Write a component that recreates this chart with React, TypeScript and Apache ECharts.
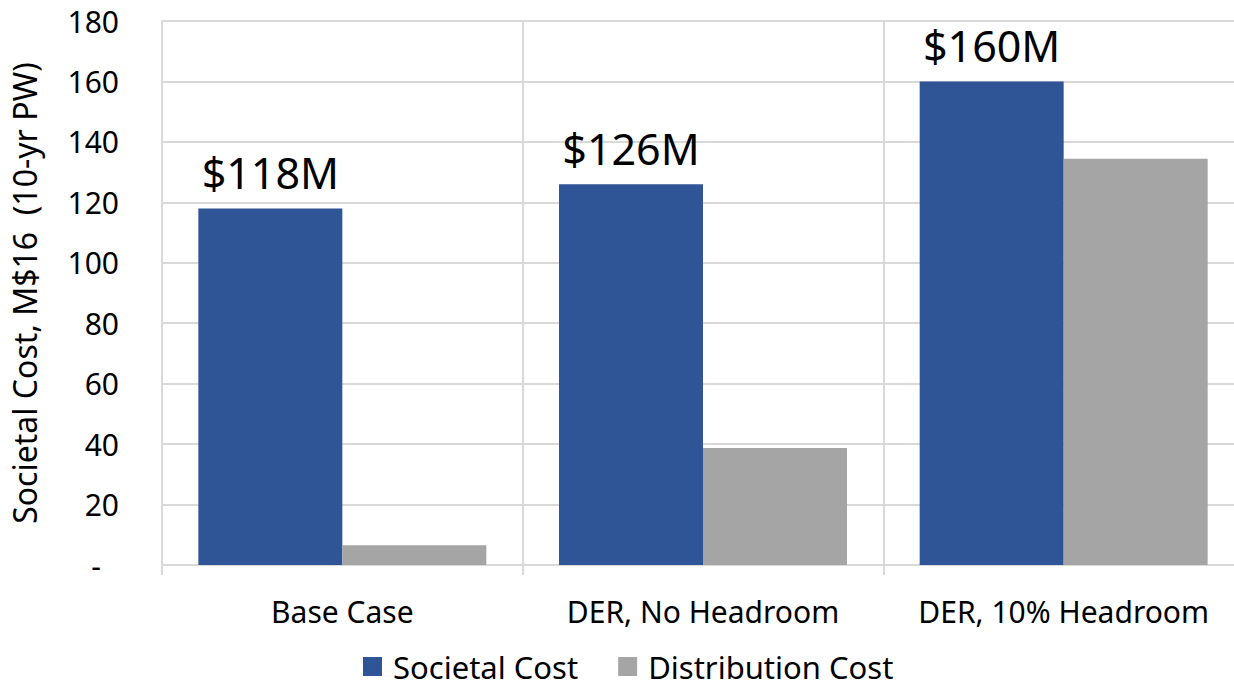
import React, { useEffect, useRef } from "react";
import * as echarts from "echarts";

const categories = ["Base Case", "DER, No Headroom", "DER, 10% Headroom"];
const societalCost = [118, 126, 160];
const distributionCost = [6.5, 38.7, 134.4];
const seriesNames = ["Societal Cost", "Distribution Cost"];
const yTicks = { min: 0, max: 180, interval: 20 };
const yAxisTitle = "Societal Cost, M$16  (10-yr PW)";

const FONT = "'Noto Sans', 'Open Sans', sans-serif";

export default function App() {
  const ref = useRef<HTMLDivElement>(null);
  useEffect(() => {
    if (!ref.current) return;
    const chart = echarts.init(ref.current, undefined, { renderer: "svg" });
    chart.setOption({
      animation: false,
      backgroundColor: "#ffffff",
      textStyle: { fontFamily: FONT, color: "#000" },
      grid: { left: 161, top: 21, width: 1083, height: 544, containLabel: false },
      legend: {
        data: seriesNames,
        left: 363,
        top: 651,
        padding: 0,
        itemWidth: 19,
        itemHeight: 19,
        itemGap: 40,
        icon: "rect",
        textStyle: {
          fontSize: 31,
          lineHeight: 30,
          fontFamily: FONT,
          color: "#000",
          padding: [0, 0, 0, 6],
        },
      },
      xAxis: {
        type: "category",
        data: categories,
        boundaryGap: true,
        axisLine: { show: true, lineStyle: { color: "#d9d9d9", width: 2 } },
        axisTick: { show: true, length: 10, interval: 0, lineStyle: { color: "#d9d9d9", width: 2 } },
        splitLine: { show: true, interval: 0, lineStyle: { color: "#d9d9d9", width: 2 } },
        axisLabel: { fontSize: 30, fontFamily: FONT, color: "#000", margin: 31, interval: 0 },
      },
      yAxis: {
        type: "value",
        min: yTicks.min,
        max: yTicks.max,
        interval: yTicks.interval,
        name: yAxisTitle,
        nameLocation: "middle",
        nameGap: 122,
        nameTextStyle: { fontSize: 32, fontFamily: FONT, color: "#000" },
        axisLine: { show: true, lineStyle: { color: "#d9d9d9", width: 2 } },
        axisTick: { show: false },
        splitLine: { show: true, lineStyle: { color: "#d9d9d9", width: 2 } },
        axisLabel: {
          fontSize: 30,
          fontFamily: FONT,
          color: "#000",
          margin: 43,
          formatter: (v: number) => (v === 0 ? "{d|-}" : String(v)),
          rich: { d: { fontSize: 30, fontFamily: FONT, color: "#000", padding: [0, 18, 0, 0] } },
        },
      },
      series: [
        {
          name: seriesNames[0],
          type: "bar",
          data: societalCost,
          barWidth: 144,
          barGap: "0%",
          itemStyle: { color: "#2F5597" },
          label: {
            show: true,
            position: "top",
            distance: 14,
            fontSize: 43,
            fontFamily: FONT,
            color: "#000",
            formatter: (p: any) => "$" + p.value + "M",
          },
        },
        {
          name: seriesNames[1],
          type: "bar",
          data: distributionCost,
          barWidth: 144,
          barGap: "0%",
          itemStyle: { color: "#A5A5A5" },
        },
      ],
    });
    return () => chart.dispose();
  }, []);
  return (
    <div
      style={{
        position: "absolute",
        left: 0,
        top: 0,
        width: 1234,
        height: 687,
        overflow: "hidden",
        background: "#fff",
      }}
    >
      <div ref={ref} style={{ width: 1260, height: 687 }} />
    </div>
  );
}
